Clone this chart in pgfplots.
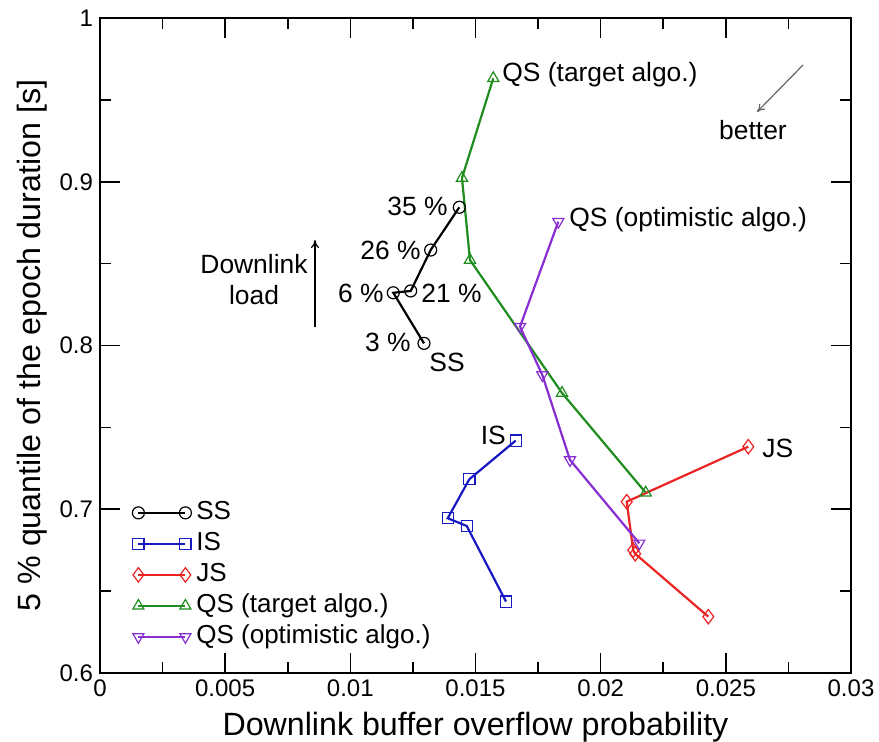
\documentclass[border=0pt]{standalone}
\usepackage{fontspec}
\setmainfont{Liberation Sans}
\usepackage{pgfplots}
\pgfplotsset{compat=1.18}
\usetikzlibrary{arrows.meta}
\definecolor{cIS}{RGB}{25,25,195}
\definecolor{cJS}{RGB}{235,35,35}
\definecolor{cQT}{RGB}{30,140,30}
\definecolor{cQO}{RGB}{135,45,210}
\newcommand{\annfont}{\fontsize{13.2}{15.5}\selectfont}
\begin{document}
\begin{tikzpicture}
\begin{axis}[
  scale only axis, width=375.5pt, height=327.5pt,
  xmin=0, xmax=0.03, ymin=0.6, ymax=1,
  xtick={0,0.005,0.01,0.015,0.02,0.025,0.03},
  ytick={0.6,0.7,0.8,0.9,1},
  minor x tick num=1, minor y tick num=1,
  tick align=inside,
  major tick length=10pt, minor tick length=5.5pt,
  scaled x ticks=false, scaled y ticks=false,
  xticklabel style={/pgf/number format/fixed, /pgf/number format/precision=3},
  yticklabel style={/pgf/number format/fixed, /pgf/number format/precision=2},
  /pgf/number format/assume math mode=true,
  tick label style={font=\fontsize{12}{14}\selectfont},
  label style={font=\fontsize{16.1}{19}\selectfont},
  xlabel={Downlink buffer overflow probability},
  ylabel={5 \% quantile of the epoch duration [s]},
  xlabel style={at={(axis description cs:0.5,-0.083)}, anchor=center},
  ylabel style={at={(axis description cs:-0.0905,0.5)}, anchor=center},
  axis line style={line width=1pt},
  every tick/.style={black, line width=0.8pt},
  legend style={draw=none, fill=none, at={(axis cs:0.001278,0.7075)}, anchor=north west,
    inner sep=0pt, row sep=0pt, font=\fontsize{13}{15}\selectfont,
    nodes={inner sep=0pt, text height=11pt, text depth=4.5pt},
    /tikz/every odd column/.append style={column sep=2.5pt}},
  legend cell align=left,
  legend image code/.code={\draw plot coordinates {(0pt,0pt) (23.5pt,0pt)};},
]
\addplot[black, line width=1.1pt, mark=o, mark size=3pt, mark options={line width=0.6pt}] coordinates {
  (0.012943,0.8013) (0.011716,0.8322) (0.012412,0.8333) (0.013210,0.8583) (0.014353,0.8844)};
\addlegendentry{SS}
\addplot[cIS, line width=1.1pt, mark=square, mark size=2.8pt, mark options={line width=0.6pt}] coordinates {
  (0.016219,0.6436) (0.014649,0.6898) (0.013890,0.6945) (0.014753,0.7183) (0.016606,0.7419)};
\addlegendentry{IS}
\addplot[cJS, line width=1.1pt, mark=diamond, mark size=3.6pt, mark options={line width=0.6pt}] coordinates {
  (0.024300,0.6344) (0.021380,0.6728) (0.021300,0.6750) (0.021040,0.7046) (0.025898,0.7382)};
\addlegendentry{JS}
\addplot[cQT, line width=1.1pt, mark=triangle, mark size=3.2pt, mark options={line width=0.6pt}] coordinates {
  (0.021799,0.7101) (0.018456,0.7710) (0.014780,0.8522) (0.014460,0.9023) (0.015711,0.9632)};
\addlegendentry{QS (target algo.)}
\addplot[cQO, line width=1.1pt, mark=triangle, mark size=3.2pt, mark options={line width=0.6pt, rotate=180}] coordinates {
  (0.021544,0.6792) (0.018775,0.7301) (0.017669,0.7820) (0.016778,0.8115) (0.018308,0.8756)};
\addlegendentry{QS (optimistic algo.)}

\node[anchor=west, inner sep=0pt, font=\annfont] at (axis cs:0.016059,0.9652) {QS (target algo.)};
\node[anchor=west, inner sep=0pt, font=\annfont] at (axis cs:0.018735,0.8767) {QS (optimistic algo.)};
\node[anchor=west, inner sep=0pt, font=\annfont] at (axis cs:0.026445,0.7374) {JS};
\node[anchor=west, inner sep=0pt, font=\annfont] at (axis cs:0.015200,0.7453) {IS};
\node[anchor=west, inner sep=0pt, font=\annfont] at (axis cs:0.013143,0.7899) {SS};
\node[anchor=east, inner sep=0pt, font=\annfont] at (axis cs:0.013902,0.8852) {35 \%};
\node[anchor=east, inner sep=0pt, font=\annfont] at (axis cs:0.012823,0.8583) {26 \%};
\node[anchor=east, inner sep=0pt, font=\annfont] at (axis cs:0.011345,0.8321) {6 \%};
\node[anchor=west, inner sep=0pt, font=\annfont] at (axis cs:0.012823,0.8321) {21 \%};
\node[anchor=east, inner sep=0pt, font=\annfont] at (axis cs:0.012424,0.8021) {3 \%};
\node[align=center, inner sep=0pt, font=\annfont] at (axis cs:0.006152,0.8400) {Downlink\\load};
\draw[-{To[length=4pt,width=4pt]}, line width=0.6pt, black] (axis cs:0.008589,0.8113) -- (axis cs:0.008589,0.8644);
\node[inner sep=0pt, font=\annfont] at (axis cs:0.026085,0.9316) {better};
\draw[-{To[length=4pt,width=4pt]}, line width=0.6pt, black!60] (axis cs:0.028083,0.9713) -- (axis cs:0.026245,0.9426);
\end{axis}
\pgfresetboundingbox
\path[use as bounding box] ([shift={(-50pt,-34.5pt)}]current axis.south west) rectangle ([shift={(14pt,9pt)}]current axis.north east);
\end{tikzpicture}
\end{document}
